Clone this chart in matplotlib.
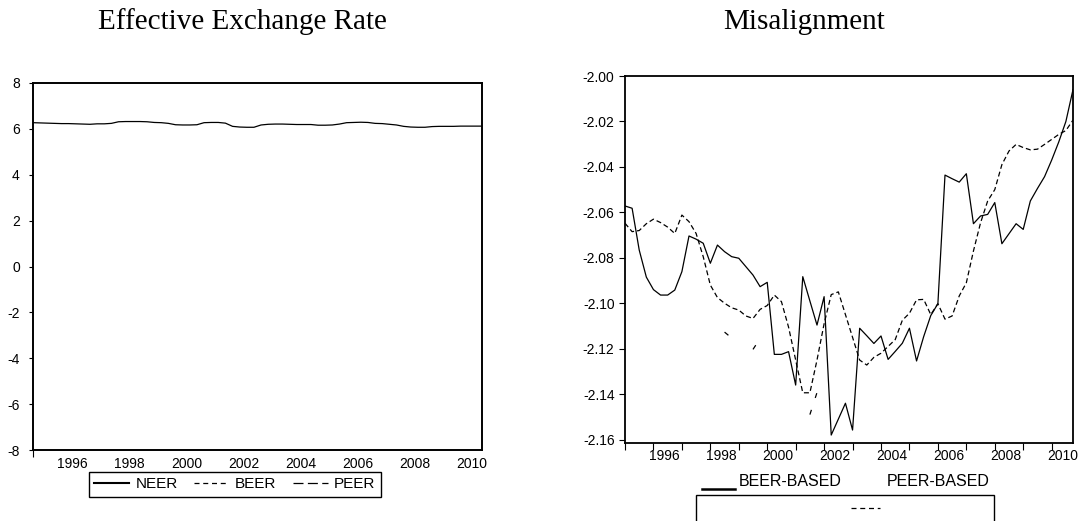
import numpy as np
import matplotlib
matplotlib.use('Agg')
import matplotlib.pyplot as plt
from matplotlib.lines import Line2D
from matplotlib.patches import Rectangle

#fonts: sans for numbers/legends, serif for the two titles
plt.rcParams['font.family'] = ['Liberation Sans', 'DejaVu Sans']
plt.rcParams['axes.unicode_minus'] = False   #plain hyphen like the original
serif = ['Liberation Serif', 'DejaVu Serif']

### data (quarterly, 1995Q1 - 2010Q4)
start_year = 1995
n_obs = 64
quarters = start_year + np.arange(n_obs) / 4.0

#effective exchange rate (log), only NEER is visible on the left panel
neer = [6.27, 6.26, 6.25, 6.24, 6.23, 6.23, 6.22, 6.21, 6.20, 6.22, 6.22, 6.24,
        6.31, 6.32, 6.32, 6.32, 6.31, 6.28, 6.27, 6.24, 6.18, 6.17, 6.17, 6.18,
        6.27, 6.28, 6.28, 6.25, 6.11, 6.08, 6.07, 6.07, 6.17, 6.20, 6.21, 6.21,
        6.20, 6.19, 6.19, 6.19, 6.16, 6.16, 6.17, 6.21, 6.27, 6.28, 6.29, 6.28,
        6.24, 6.23, 6.20, 6.17, 6.11, 6.08, 6.07, 6.07, 6.10, 6.11, 6.11, 6.11,
        6.12, 6.12, 6.12, 6.12]

#misalignment series
beer_based = [-2.0572, -2.0582, -2.0766, -2.0885, -2.0940, -2.0964, -2.0964, -2.0942,
              -2.0861, -2.0704, -2.0718, -2.0736, -2.0824, -2.0744, -2.0773, -2.0795,
              -2.0802, -2.0839, -2.0876, -2.0927, -2.0908, -2.1225, -2.1225, -2.1213,
              -2.1360, -2.0883, -2.0990, -2.1096, -2.0971, -2.1580, -2.1510, -2.1440,
              -2.1558, -2.1110, -2.1143, -2.1177, -2.1144, -2.1247, -2.1212, -2.1176,
              -2.1110, -2.1254, -2.1147, -2.1054, -2.1002, -2.0436, -2.0452, -2.0467,
              -2.0430, -2.0650, -2.0616, -2.0609, -2.0557, -2.0738, -2.0694, -2.0650,
              -2.0675, -2.0550, -2.0495, -2.0443, -2.0370, -2.0290, -2.0200, -2.0060]

peer_based = [-2.0648, -2.0685, -2.0680, -2.0650, -2.0630, -2.0645, -2.0665, -2.0693,
              -2.0612, -2.0641, -2.0693, -2.0795, -2.0920, -2.0975, -2.1000, -2.1020,
              -2.1030, -2.1056, -2.1067, -2.1027, -2.1010, -2.0964, -2.0993, -2.1105,
              -2.1250, -2.1394, -2.1394, -2.1250, -2.1090, -2.0962, -2.0950, -2.1050,
              -2.1150, -2.1250, -2.1272, -2.1238, -2.1220, -2.1190, -2.1160, -2.1075,
              -2.1044, -2.0985, -2.0983, -2.1050, -2.1002, -2.1070, -2.1056, -2.0968,
              -2.0910, -2.0770, -2.0646, -2.0550, -2.0500, -2.0390, -2.0330, -2.0301,
              -2.0315, -2.0325, -2.0322, -2.0301, -2.0279, -2.0257, -2.0240, -2.0194]

#third (unnamed) series, only a few observations available
third_idx = [14, 15, 18, 19, 26, 27]
third_vals = [-2.1127, -2.1153, -2.1203, -2.1155, -2.1490, -2.1393]
third = np.full(n_obs, np.nan)
third[third_idx] = third_vals

label_years = [1996, 1998, 2000, 2002, 2004, 2006, 2008, 2010]

W, H = 1082, 521
fig = plt.figure(figsize=(W / 100, H / 100), dpi=100)

### left panel
ax1 = fig.add_axes([33 / W, 1 - 450 / H, 449 / W, 367 / H])
ax1.plot(quarters, neer, color='black', lw=0.9)
ax1.set_xlim(quarters[0], quarters[-1])
ax1.set_ylim(-8, 8)
ax1.set_yticks(np.arange(-8, 9, 2))
ax1.set_xticks([start_year])
ax1.set_xticklabels([''])
ax1.set_xticks([y + 0.38 for y in label_years], minor=True)
ax1.set_xticklabels([str(y) for y in label_years], minor=True)
ax1.tick_params(axis='x', which='major', length=5, width=0.8, direction='out')
ax1.tick_params(axis='x', which='minor', length=0, pad=5, labelsize=10)
ax1.tick_params(axis='y', length=3, width=0.8, pad=6.5, labelsize=10)
for s in ax1.spines.values():
    s.set_linewidth(1.4)

handles = [Line2D([], [], color='black', lw=1.5),
           Line2D([], [], color='black', lw=0.9, dashes=(4, 3)),
           Line2D([], [], color='black', lw=0.9, dashes=(8, 3.5))]
leg = ax1.legend(handles, ['NEER', 'BEER', 'PEER'], ncol=3, loc='upper left',
                 bbox_to_anchor=(89 / W, 1 - 472 / H), bbox_transform=fig.transFigure,
                 frameon=True, fancybox=False, edgecolor='black', framealpha=1,
                 borderpad=0.35, handlelength=2.3, handletextpad=0.4,
                 columnspacing=1.05, borderaxespad=0, fontsize=11)
leg.get_frame().set_linewidth(1.0)

### right panel
ax2 = fig.add_axes([625 / W, 1 - 443 / H, 448 / W, 367 / H])
ax2.plot(quarters, beer_based, color='black', lw=0.9)
ax2.plot(quarters, peer_based, color='black', lw=0.9, dashes=(4, 2.4))
ax2.plot(quarters, third, color='black', lw=0.9, dashes=(4, 10))
ax2.set_xlim(quarters[0], quarters[-1])
ax2.set_ylim(-2.1615, -2.00)
ax2.set_yticks(np.arange(-2.16, -1.999, 0.02))
ax2.yaxis.set_major_formatter(matplotlib.ticker.FormatStrFormatter('%.2f'))
ax2.set_xticks(np.arange(start_year, 2011))
ax2.set_xticklabels([''] * len(np.arange(start_year, 2011)))
ax2.set_xticks([y + 0.38 for y in label_years], minor=True)
ax2.set_xticklabels([str(y) for y in label_years], minor=True)
ax2.tick_params(axis='x', which='major', length=5, width=0.8, direction='out')
ax2.tick_params(axis='x', which='minor', length=0, pad=4, labelsize=10)
ax2.tick_params(axis='y', length=4.5, width=0.8, pad=3, labelsize=10)
for s in ax2.spines.values():
    s.set_linewidth(1.3)

#the (rather broken) legend of the right panel
fig.add_artist(Line2D([702 / W, 735 / W], [1 - 489 / H] * 2, color='black', lw=1.8))
fig.text(739 / W, 1 - 482 / H, 'BEER-BASED', va='center', fontsize=11.5)
fig.text(887 / W, 1 - 482 / H, 'PEER-BASED', va='center', fontsize=11.5)
fig.add_artist(Rectangle((696 / W, -0.05), (994 - 696) / W, 1 - 495 / H + 0.05,
                         fill=False, lw=1.0, edgecolor='black', transform=fig.transFigure))
fig.add_artist(Line2D([851 / W, 880 / W], [1 - 508 / H] * 2, color='black', lw=0.9,
                      dashes=(4, 3)))

#titles
fig.text(242 / W, 1 - 22 / H, 'Effective Exchange Rate', ha='center', va='center',
         fontsize=21, family=serif)
fig.text(804 / W, 1 - 22 / H, 'Misalignment', ha='center', va='center',
         fontsize=21, family=serif)

fig.savefig('out.png', dpi=100)
